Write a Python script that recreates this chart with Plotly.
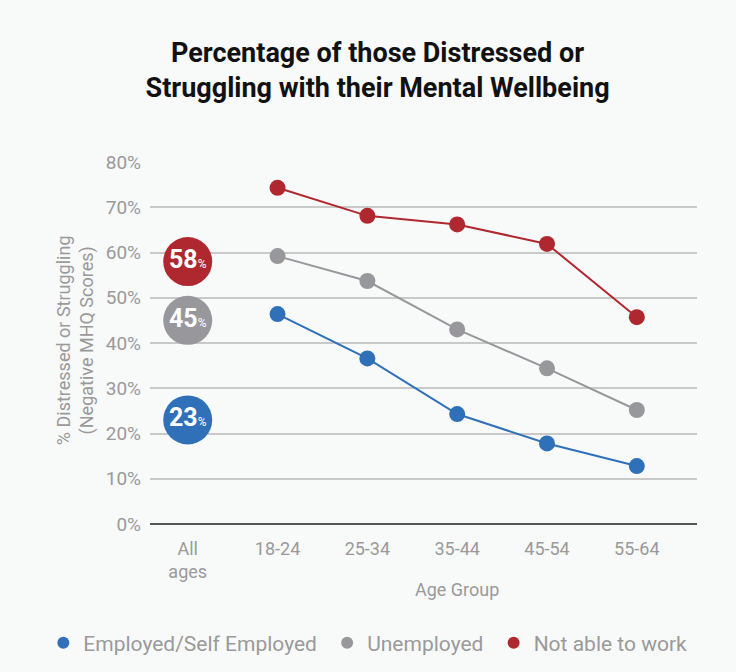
import plotly.graph_objects as go

categories = ["All ages", "18-24", "25-34", "35-44", "45-54", "55-64"]
age_groups = ["18-24", "25-34", "35-44", "45-54", "55-64"]
tick_labels = ["All<br>ages", "18-24", "25-34", "35-44", "45-54", "55-64"]

series_names = ["Employed/Self Employed", "Unemployed", "Not able to work"]
employed = [46.4, 36.6, 24.3, 17.8, 12.8]
unemployed = [59.2, 53.7, 43.0, 34.4, 25.2]
not_able = [74.3, 68.1, 66.2, 61.9, 45.7]
all_ages = [23, 45, 58]

colors = ["#2f70b9", "#98989c", "#b0282f"]
bg = "#f8f9f9"
gray_txt = "#9a9a9a"

idx = {c: i for i, c in enumerate(categories)}
age_x = [idx[a] for a in age_groups]

fig = go.Figure()
for name, vals, col in zip(series_names, [employed, unemployed, not_able], colors):
    fig.add_trace(go.Scatter(
        x=age_x, y=vals, mode="lines+markers", name=name,
        line=dict(color=col, width=2),
        marker=dict(color=col, size=16),
        cliponaxis=False, showlegend=False,
    ))

# legend entries (circle markers only)
for name, col in zip(series_names, colors):
    fig.add_trace(go.Scatter(
        x=[None], y=[None], mode="markers", name=name + "\u00a0",
        marker=dict(color=col, size=15), showlegend=True,
    ))

# "All ages" badges
for v, col in zip(all_ages, colors):
    fig.add_trace(go.Scatter(
        x=[idx["All ages"]], y=[v], mode="markers+text",
        marker=dict(color=col, size=49),
        text=[f"<b>{v}</b><span style='font-size:12px'>%</span>"],
        textposition="middle center",
        textfont=dict(family="Roboto", size=25, color="white"),
        showlegend=False, cliponaxis=False, hoverinfo="skip",
    ))

fig.update_layout(
    width=736, height=672,
    paper_bgcolor=bg, plot_bgcolor=bg,
    margin=dict(l=150, r=39, t=162, b=148, autoexpand=False),
    font=dict(family="Roboto", color=gray_txt, size=18),
    title=dict(
        text="<b>Percentage of those Distressed or<br>Struggling with their Mental Wellbeing</b>",
        x=0.513, xanchor="center", y=0.908, yanchor="middle",
        font=dict(family="Roboto", size=27, color="#111111"),
    ),
    showlegend=True,
    legend=dict(
        orientation="h", x=-0.195, xanchor="left",
        y=-0.329, yanchor="middle",
        font=dict(size=21, color=gray_txt), itemsizing="constant", itemwidth=30,
        bgcolor="rgba(0,0,0,0)",
    ),
    xaxis=dict(
        range=[-0.42, 5.67], tickvals=list(range(len(categories))), ticktext=tick_labels,
        showgrid=False, zeroline=False, showline=False, ticks="",
        ticklabelstandoff=12,
        tickfont=dict(size=18, color=gray_txt),
    ),
    yaxis=dict(
        range=[0, 80], tickvals=[0, 10, 20, 30, 40, 50, 60, 70, 80],
        ticktext=[f"{v}%" for v in [0, 10, 20, 30, 40, 50, 60, 70, 80]],
        showgrid=True, gridcolor="#c9c9c9", gridwidth=1.5,
        zeroline=True, zerolinecolor="#555555", zerolinewidth=2,
        ticks="", ticklabelstandoff=8,
        tickfont=dict(size=19, color=gray_txt),
    ),
    annotations=[
        dict(text="Age Group", xref="x", yref="paper", x=idx["35-44"], y=-0.182,
             showarrow=False, font=dict(size=18, color=gray_txt), yanchor="middle"),
        dict(text="% Distressed or Struggling<br>(Negative MHQ Scores)", xref="paper", yref="paper",
             x=-0.137, y=0.508, textangle=-90, showarrow=False,
             font=dict(size=18, color=gray_txt), xanchor="center", yanchor="middle"),
    ],
)

fig.write_html("out.html")
